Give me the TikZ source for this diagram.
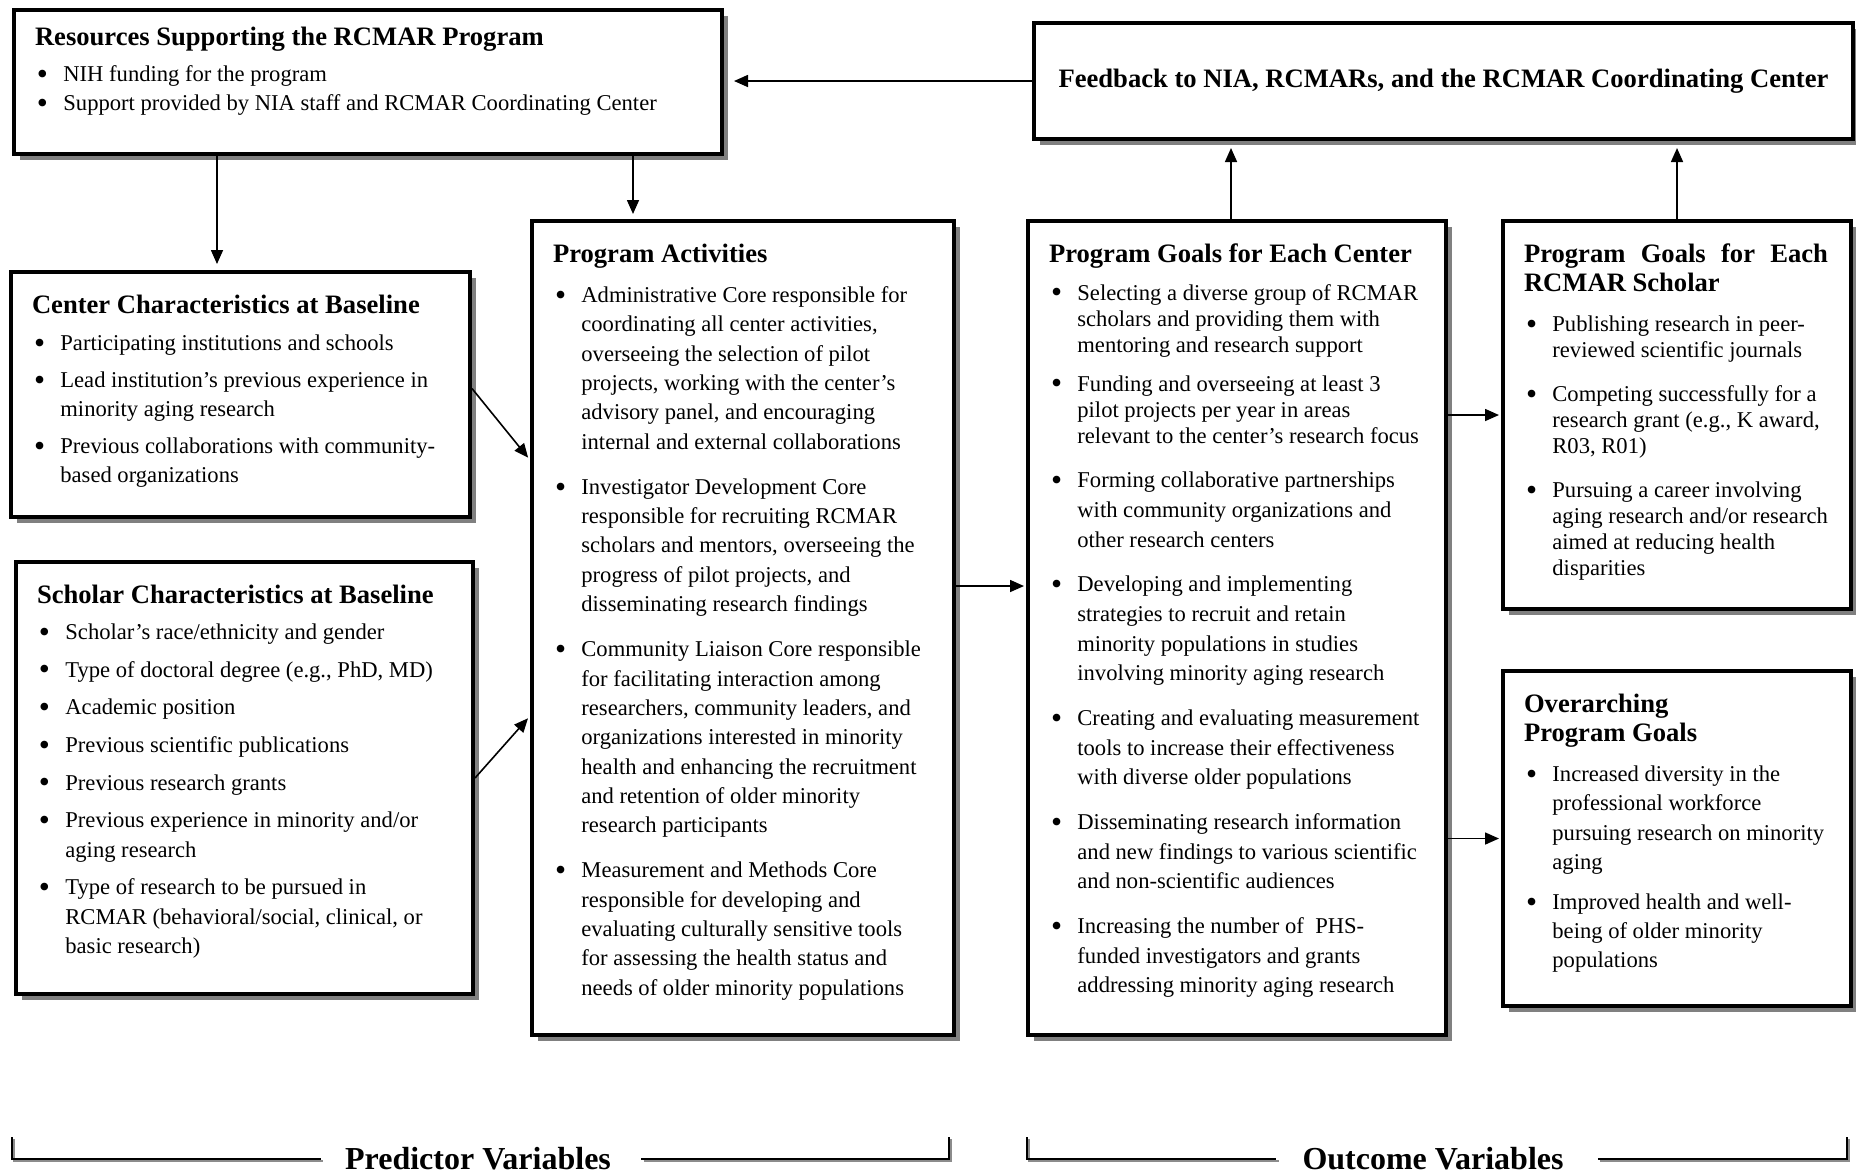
\documentclass[tikz,border=0pt]{standalone}
\usepackage{fontspec}
\setmainfont{Liberation Serif}
\usetikzlibrary{arrows.meta,shadows}

\newlength\pgap
\newlength\htop
\newlength\bulind
\setlength\htop{20.5pt}
\setlength\bulind{14.2pt}
\newcommand\headfont{\fontsize{13.3}{14.8}\selectfont\bfseries}
\newcommand\bodyfont{\fontsize{11.3}{14.65}\selectfont}
\newcommand\hd[2][0pt]{{\headfont\rule{0pt}{\htop}#2\par}\vspace{#1}}
\newcommand\pitem[1]{\vspace{\pgap}\hangindent=\bulind\hangafter=1\noindent
  \makebox[\bulind][l]{\hspace{1pt}\raisebox{-1.4pt}{\scalebox{1.4}{\textbullet}}}#1\par}
\newcommand\panelbody[3]{\kern10.5pt\parbox[t][#2][t]{\dimexpr#1-13.5pt\relax}{%
  \rightskip=0pt plus 1fil\relax\bodyfont#3}\kern3pt}

\begin{document}
\begin{tikzpicture}[x=0.5pt,y=-0.5pt,
  panel/.style={draw, line width=2pt, fill=white, anchor=north west, inner sep=0pt,
    drop shadow={fill=black!50, opacity=1, shadow xshift=3.2pt, shadow yshift=-3.2pt}},
  link/.style={line width=0.8pt, -{Triangle[length=7pt,width=6pt]}},
  varlabel/.style={font=\fontsize{16}{18}\selectfont\bfseries, inner sep=0pt},
  bracket/.style={line width=1pt,
    preaction={draw=black!45, line width=1pt, transform canvas={shift={(1.2pt,-1.2pt)}}}}]
  \useasboundingbox (0,0) rectangle (1856,1175);

  % 1. Resources and feedback across the top
  \node[panel] (res) at (12,8) {\panelbody{354pt}{72pt}{%
    \setlength\htop{17.5pt}%
    \hd[3.5pt]{Resources Supporting the RCMAR Program}
    \pitem{NIH funding for the program}
    \pitem{Support provided by NIA staff and RCMAR Coordinating Center}}};
  \node[panel, minimum width=409.5pt, minimum height=58pt, font=\headfont] (fb) at (1032,21)
    {Feedback to NIA, RCMARs, and the RCMAR Coordinating Center};

  % 2. Predictor side: baseline characteristics and activities
  \node[panel] (cen) at (9,270) {\panelbody{229.5pt}{122.5pt}{%
    \setlength\pgap{3.7pt}%
    \hd[0.5pt]{Center Characteristics at Baseline}
    \pitem{Participating institutions and schools}
    \pitem{Lead institution’s previous experience in\\minority aging research}
    \pitem{Previous collaborations with community-\\based organizations}}};
  \node[panel] (sch) at (14,560) {\panelbody{228.5pt}{216pt}{%
    \setlength\pgap{4.2pt}%
    \hd[-0.7pt]{Scholar Characteristics at Baseline}
    \pitem{Scholar’s race/ethnicity and gender}
    \pitem{Type of doctoral degree (e.g., PhD, MD)}
    \pitem{Academic position}
    \pitem{Previous scientific publications}
    \pitem{Previous research grants}
    \pitem{Previous experience in minority and/or\\aging research}
    \pitem{Type of research to be pursued in\\RCMAR (behavioral/social, clinical, or\\basic research)}}};
  \node[panel] (act) at (530,219) {\panelbody{211pt}{407pt}{%
    \setlength\pgap{8pt}%
    \hd[-2.4pt]{Program Activities}
    \pitem{Administrative Core responsible for\\coordinating all center activities,\\overseeing the selection of pilot\\projects, working with the center’s\\advisory panel, and encouraging\\internal and external collaborations}
    \pitem{Investigator Development Core\\responsible for recruiting RCMAR\\scholars and mentors, overseeing the\\progress of pilot projects, and\\disseminating research findings}
    \pitem{Community Liaison Core responsible\\for facilitating interaction among\\researchers, community leaders, and\\organizations interested in minority\\health and enhancing the recruitment\\and retention of older minority\\research participants}
    \pitem{Measurement and Methods Core\\responsible for developing and\\evaluating culturally sensitive tools\\for assessing the health status and\\needs of older minority populations}}};

  % 3. Outcome side: goals
  \node[panel] (gce) at (1026,219) {\panelbody{209pt}{407pt}{%
    \fontsize{11.3}{13}\selectfont\setlength\pgap{6.5pt}%
    \hd[-0.5pt]{Program Goals for Each Center}
    \pitem{Selecting a diverse group of RCMAR\\scholars and providing them with\\mentoring and research support}
    \pitem{Funding and overseeing at least 3\\pilot projects per year in areas\\relevant to the center’s research focus}
    \fontsize{11.3}{14.8}\selectfont\setlength\pgap{7.6pt}%
    \pitem{Forming collaborative partnerships\\with community organizations and\\other research centers}
    \pitem{Developing and implementing\\strategies to recruit and retain\\minority populations in studies\\involving minority aging research}
    \pitem{Creating and evaluating measurement\\tools to increase their effectiveness\\with diverse older populations}
    \pitem{Disseminating research information\\and new findings to various scientific\\and non-scientific audiences}
    \pitem{Increasing the number of \ PHS-\\funded investigators and grants\\addressing minority aging research}}};
  \node[panel] (gsc) at (1501,219) {\panelbody{174pt}{194pt}{%
    \fontsize{11.3}{13}\selectfont\setlength\pgap{9pt}%
    \hd[-2.1pt]{\makebox[152pt][s]{Program Goals for Each}\\RCMAR Scholar}
    \pitem{Publishing research in peer-\\reviewed scientific journals}
    \pitem{Competing successfully for a\\research grant (e.g., K award,\\R03, R01)}
    \pitem{Pursuing a career involving\\aging research and/or research\\aimed at reducing health\\disparities}}};
  \node[panel] (ovr) at (1501,669) {\panelbody{174pt}{167.5pt}{%
    \setlength\pgap{5.3pt}%
    \hd[0pt]{Overarching\\Program Goals}
    \pitem{Increased diversity in the\\professional workforce\\pursuing research on minority\\aging}
    \pitem{Improved health and well-\\being of older minority\\populations}}};

  % 4. Arrows between the boxes
  \coordinate (r1) at ([xshift=102.5pt]res.south west);
  \coordinate (r2) at ([xshift=-45.5pt]res.south east);
  \coordinate (g1) at ([xshift=-3pt]gce.north);
  \draw[link, shorten >=5pt] (fb.west) -- (fb.west -| res.east);
  \draw[link, shorten >=3pt] (r1) -- (r1 |- cen.north);
  \draw[link, shorten >=2.5pt] (r2) -- (r2 |- act.north);
  \draw[link, shorten >=1.5pt] ([yshift=3pt]cen.east) -- ([yshift=84pt]act.west);
  \draw[link, shorten >=1.5pt] (sch.east) -- ([yshift=-44pt]act.west);
  \draw[link, shorten >=1pt] ([yshift=21pt]act.east) -- ([yshift=21pt]gce.west);
  \draw[link, shorten >=1pt] (gce.east |- gsc.west) -- (gsc.west);
  \draw[link, shorten >=1pt] (gce.east |- ovr.west) -- (ovr.west);
  \draw[link, shorten >=3.5pt] (g1) -- (g1 |- fb.south);
  \draw[link, shorten >=3.5pt] (gsc.north) -- (gsc.north |- fb.south);

  % 5. Variable brackets along the bottom
  \node[varlabel] (pv) at (478,1159) {Predictor Variables};
  \node[varlabel] (ov) at (1433,1159) {Outcome Variables};
  \coordinate (pl) at (12,1137);
  \coordinate (pr) at (949,1137);
  \coordinate (ol) at (1027,1137);
  \coordinate (or) at (1847,1137);
  \draw[bracket, shorten >=12pt] (pl) |- (pv.west);
  \draw[bracket, shorten <=15pt] (pv.east) -| (pr);
  \draw[bracket, shorten >=13pt] (ol) |- (ov.west);
  \draw[bracket, shorten <=17pt] (ov.east) -| (or);
\end{tikzpicture}
\end{document}
